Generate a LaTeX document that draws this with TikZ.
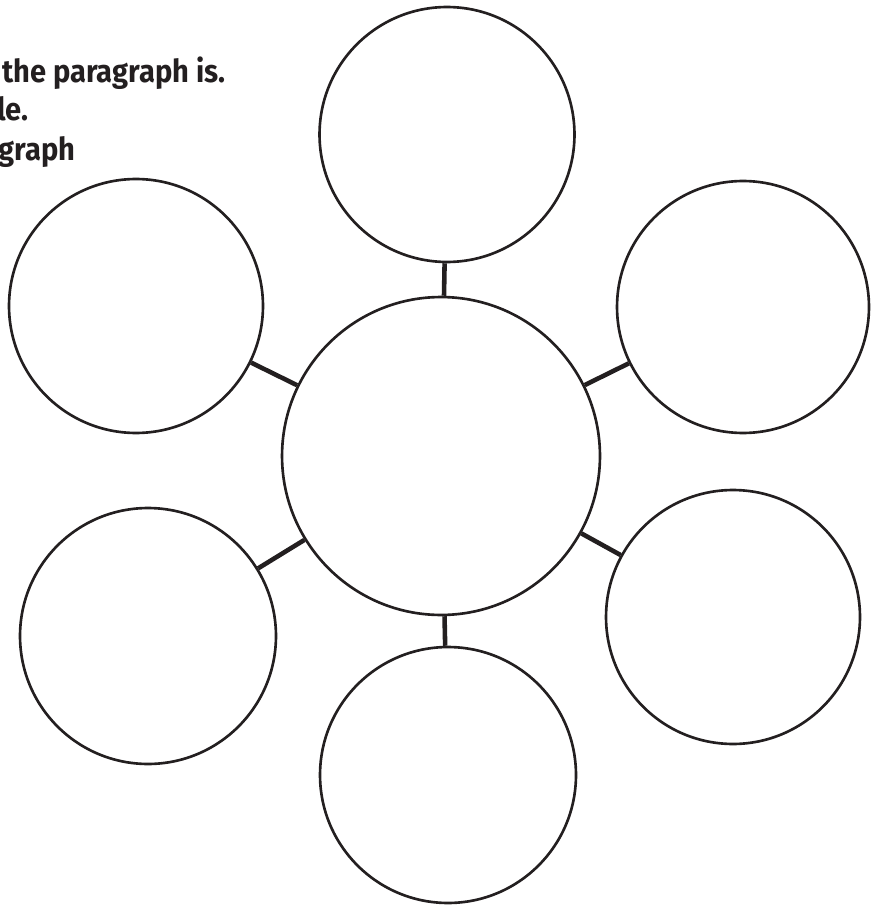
\documentclass[tikz,border=0pt]{standalone}
\usepackage{fontspec}
\newfontfamily\notefont[FakeStretch=0.92]{Fira Sans}
\definecolor{ink}{RGB}{35,31,32}
\begin{document}
\begin{tikzpicture}[x=0.02cm, y=-0.02cm, ink, line width=1.5pt,
		bubble/.style={circle, draw=ink, fill=white, inner sep=0pt, minimum size=#1},
		link/.style={draw=ink, line width=2.6pt},
		note/.style={inner sep=0pt, font=\notefont\bfseries\fontsize{18pt}{21pt}\selectfont}]
	
	% --- 1. page frame ---
	\useasboundingbox (0,0) rectangle (870,905);
	
	% --- 2. instruction text (cut at the left edge) ---
	\begin{scope}
		\clip (0,0) rectangle (870,905);
		\node[note, anchor=base west] (line1) at (1,83) {the paragraph is.};
		\node[note, anchor=base east] (line2) at (30,121) {title.};
		\node[note, anchor=base east] (line3) at (77,161) {paragraph};
	\end{scope}
	
	% --- 3. circles ---
	\node[bubble=6.36cm] (main) at (441,456) {};
	\node[bubble=5.10cm] (top) at (447,134.5) {};
	\node[bubble=5.08cm] (topleft) at (136,306) {};
	\node[bubble=5.04cm] (topright) at (743,307) {};
	\node[bubble=5.12cm] (botleft) at (148,636) {};
	\node[bubble=5.08cm] (botright) at (733,617) {};
	\node[bubble=5.12cm] (bottom) at (448,775) {};
	
	% --- 4. connectors ---
	\foreach \outer in {top, topleft, topright, botleft, botright, bottom}
		\draw[link] (main) -- (\outer);
	
\end{tikzpicture}
\end{document}
